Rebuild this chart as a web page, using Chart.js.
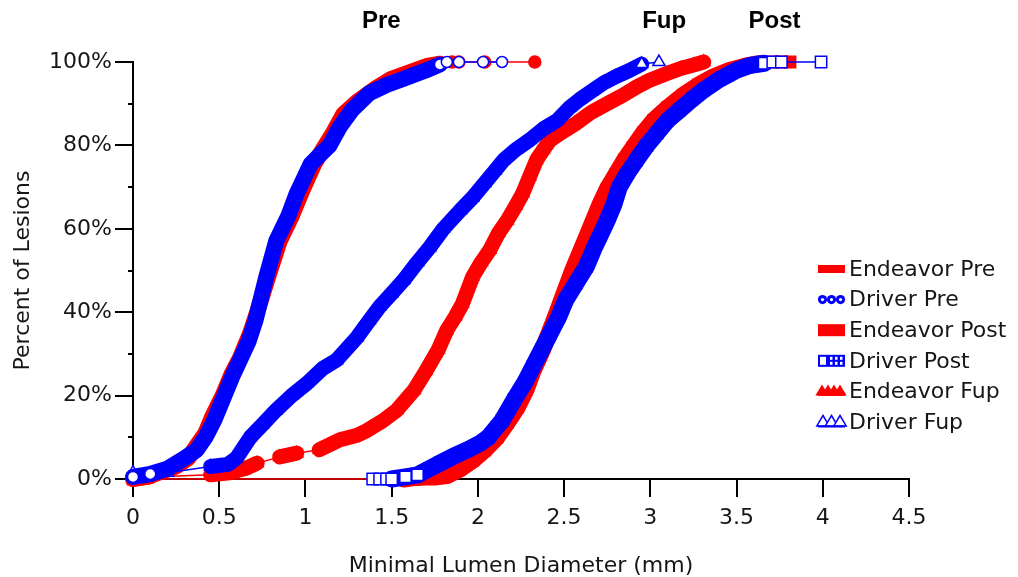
<!DOCTYPE html>
<html>
<head>
<meta charset="utf-8">
<script src="https://cdn.jsdelivr.net/npm/chart.js@4/dist/chart.umd.min.js"></script>
<style>
html,body{margin:0;padding:0;background:#fff;}
#wrap{width:1018px;height:577px;position:relative;}
</style>
</head>
<body>
<div id="wrap"><canvas id="c" width="1018" height="577"></canvas></div>
<script>
// ---------- data ----------
const seriesNames = ['Endeavor Pre','Driver Pre','Endeavor Post','Driver Post','Endeavor Fup','Driver Fup'];
const groupLabels = ['Pre','Fup','Post'];
const groupLabelX = [1.44, 3.08, 3.72];
const xTickLabels = ['0','0.5','1','1.5','2','2.5','3','3.5','4','4.5'];
const yTickLabels = ['0%','20%','40%','60%','80%','100%'];
const xTitle = 'Minimal Lumen Diameter (mm)';
const yTitle = 'Percent of Lesions';

const endeavorPreX = [0,0.08,0.15,0.25,0.32,0.37,0.42,0.46,0.52,0.57,0.62,0.68,0.72,0.78,0.85,0.92,0.98,1.05,1.10,1.16,1.22,1.30,1.40,1.50,1.60,1.70,1.78,1.85,1.89,2.04,2.33];
const endeavorPreY = [0,0.5,1.5,3,5,8,11,15,20,25,29,35,40,48,57,63,69,75.5,79,83,87.5,90.5,93.5,96,97.5,99,99.6,100,100,100,100];

const driverPreX = [0,0.1,0.2,0.3,0.37,0.42,0.47,0.53,0.58,0.62,0.67,0.71,0.77,0.83,0.90,0.95,1.03,1.09,1.14,1.20,1.27,1.37,1.47,1.57,1.70,1.78,1.82,1.89,2.03,2.14];
const driverPreY = [0.5,1.2,2.5,5,7,10,14,20,25,28.5,33,38,48,57,63,68.5,75.5,78,80,84.5,88.5,92.5,94.5,96,98,99.4,100,100,100,100];

const endeavorPostX = [0,1.53,1.57,1.62,1.70,1.76,1.82,1.90,1.97,2.04,2.11,2.17,2.23,2.28,2.32,2.37,2.42,2.46,2.50,2.55,2.59,2.63,2.67,2.71,2.75,2.80,2.85,2.90,2.96,3.02,3.10,3.19,3.28,3.37,3.46,3.55,3.63,3.71,3.76,3.81];
const endeavorPostY = [0,0,0,0.3,0.5,0.5,0.8,2.5,4.5,7,10,13.5,17.3,21.5,26,30.5,35.7,40,44.5,50,54,58,62,66,69.5,73,76.5,79.5,83,86,89,92,94.5,96.5,98,99,99.6,100,100,100];

const driverPostX = [1.39,1.43,1.47,1.50,1.58,1.65,1.72,1.78,1.86,1.94,2.01,2.06,2.14,2.21,2.27,2.32,2.37,2.42,2.47,2.51,2.57,2.63,2.67,2.71,2.75,2.79,2.82,2.87,2.92,2.98,3.04,3.10,3.17,3.24,3.31,3.40,3.50,3.58,3.66,3.71,3.76,3.99];
const driverPostY = [0,0,0,0,0.5,1,2.5,3.8,5.5,7,8.5,10,14,19,23,27,31,35,39,43,47,51,55,58.5,62,66,70,73.5,76.5,80,83,86,88.5,91,93.3,95.8,98,99.2,99.7,100,100,100];

const endeavorFupX = [0,0.1,0.45,0.56,0.65,0.72,0.85,0.95,1.08,1.20,1.30,1.36,1.45,1.53,1.63,1.70,1.77,1.82,1.87,1.91,1.97,2.02,2.07,2.12,2.17,2.22,2.26,2.30,2.34,2.38,2.42,2.50,2.57,2.66,2.75,2.84,2.92,3.00,3.10,3.18,3.25,3.31];
const endeavorFupY = [0,0.5,1,1.5,2.5,3.8,5.3,6.2,7,9.4,10.5,11.7,14,16.5,21.3,26,31,35.7,39,42,48.5,52,55,59,62,65.5,68.5,72.5,76.5,79,81.3,83.5,85.3,88,90,92,94,95.7,97.3,98.5,99.3,100];

const driverFupX = [0,0.2,0.45,0.55,0.60,0.68,0.75,0.83,0.92,1.01,1.10,1.18,1.30,1.37,1.43,1.50,1.57,1.65,1.72,1.80,1.90,1.97,2.04,2.10,2.15,2.22,2.30,2.38,2.46,2.53,2.59,2.66,2.73,2.80,2.88,2.95,3.05];
const driverFupY = [1.5,1.5,3,3.5,5,10,13,16.5,20,23,26.5,28.5,34,38,41.3,44.5,47.7,52,55.5,60,64.5,67.5,71,74,76.5,79,81.3,84,86,89,91,93,95,96.5,98,99.5,100];

// ---------- helpers ----------
const FONT = "'DejaVu Sans', Verdana, sans-serif";
const TXT = '#161616';
const RED = '#ff0000', BLUE = '#0000ff';

function pts(xs, ys){ return xs.map((x,i)=>({x:x, y:ys[i]})); }
function isThin(c){
  const d = c.chart.data.datasets[c.datasetIndex].data;
  const a = d[c.p0DataIndex], b = d[c.p1DataIndex];
  if(!a||!b) return false;
  return (a.y>=99.4&&b.y>=100)||(a.y<=0&&b.y<=0)||((b.x-a.x)>=0.12&&Math.abs(b.y-a.y)<=1.6);
}
function makeDs(label, xs, ys, color, style, radius, hollow, width, order){
  return {
    label: label,
    data: pts(xs, ys),
    showLine: true,
    borderColor: color,
    backgroundColor: color,
    borderWidth: 1.5,
    segment: { borderWidth: c => isThin(c) ? 1.5 : width },
    borderCapStyle: 'round',
    borderJoinStyle: 'round',
    tension: 0,
    clip: false,
    pointStyle: style,
    pointRadius: radius,
    pointBorderColor: color,
    pointBorderWidth: 1.5,
    pointBackgroundColor: hollow ? (c => { const r = c.raw; return (r && (r.y>=99.4 || r.y<=1.5)) ? '#ffffff' : color; }) : color,
    order: order
  };
}

const datasets = [
  makeDs(seriesNames[0], endeavorPreX, endeavorPreY, RED, 'circle', 6, false, 16, 2),
  makeDs(seriesNames[1], driverPreX, driverPreY, BLUE, 'circle', 5.5, true, 16, 1),
  makeDs(seriesNames[2], endeavorPostX, endeavorPostY, RED, 'rect', 8, false, 17, 2),
  makeDs(seriesNames[3], driverPostX, driverPostY, BLUE, 'rect', 8, true, 17, 1),
  makeDs(seriesNames[4], endeavorFupX, endeavorFupY, RED, 'triangle', 7, false, 15, 2),
  makeDs(seriesNames[5], driverFupX, driverFupY, BLUE, 'triangle', 7, true, 15, 1)
];

// ---------- plugins ----------
const minorTicks = {
  id: 'minorTicks',
  afterDraw(chart){
    const y = chart.scales.y, ctx = chart.ctx, left = chart.chartArea.left;
    ctx.save();
    ctx.strokeStyle = '#000'; ctx.lineWidth = 2;
    [10,30,50,70,90].forEach(v => {
      const py = Math.round(y.getPixelForValue(v));
      ctx.beginPath(); ctx.moveTo(left-5, py); ctx.lineTo(left, py); ctx.stroke();
    });
    ctx.restore();
  }
};

const groupTitles = {
  id: 'groupTitles',
  afterDraw(chart){
    const x = chart.scales.x, ctx = chart.ctx;
    ctx.save();
    ctx.font = "bold 24px 'Liberation Sans', Arial, sans-serif";
    ctx.fillStyle = '#000';
    ctx.textAlign = 'center'; ctx.textBaseline = 'middle';
    groupLabels.forEach((t,i) => ctx.fillText(t, x.getPixelForValue(groupLabelX[i]), chart.chartArea.top - 41));
    ctx.restore();
  }
};

function tri(ctx, cx, cy, r){
  ctx.beginPath();
  ctx.moveTo(cx, cy - r);
  ctx.lineTo(cx + r*0.95, cy + r*0.6);
  ctx.lineTo(cx - r*0.95, cy + r*0.6);
  ctx.closePath();
}

const customLegend = {
  id: 'customLegend',
  afterDraw(chart){
    const ctx = chart.ctx;
    const x0 = 818, x1 = 845, tx = 849, y0 = 269, dy = 30.6;
    ctx.save();
    chart.data.datasets.forEach((ds, i) => {
      const cy = y0 + i*dy;
      const col = ds.borderColor;
      ctx.lineWidth = 1.5;
      if (i === 0) { ctx.fillStyle = col; ctx.fillRect(x0, cy-4, x1-x0, 8); }
      else if (i === 2) { ctx.fillStyle = col; ctx.fillRect(x0, cy-6, x1-x0, 12); }
      else if (i === 1) {
        ctx.fillStyle = col;
        [822.5, 831.5, 840.5].forEach(cx => { ctx.beginPath(); ctx.arc(cx, cy, 4.6, 0, Math.PI*2); ctx.fill(); });
        ctx.fillStyle = '#fff';
        [822.5, 831.5, 840.5].forEach(cx => { ctx.beginPath(); ctx.arc(cx, cy, 1.6, 0, Math.PI*2); ctx.fill(); });
      }
      else if (i === 3) {
        ctx.fillStyle = col; ctx.fillRect(x0, cy-6, x1-x0, 12);
        ctx.fillStyle = '#fff';
        ctx.fillRect(x0+2, cy-4, 6, 8);
        [830, 835, 840].forEach(cx => { ctx.fillRect(cx, cy-4, 2.5, 3); ctx.fillRect(cx, cy+1, 2.5, 3); });
      }
      else if (i === 4) {
        ctx.fillStyle = col;
        [822, 828, 834, 840].forEach(cx => { tri(ctx, cx, cy, 7); ctx.fill(); });
        ctx.fillRect(x0, cy+1, x1-x0, 3.5);
      }
      else if (i === 5) {
        ctx.strokeStyle = col; ctx.fillStyle = '#fff';
        [823, 831.5, 840].forEach(cx => { tri(ctx, cx, cy, 6.5); ctx.fill(); ctx.stroke(); });
        ctx.fillStyle = col; ctx.fillRect(x0, cy+3.5, x1-x0, 2);
      }
      ctx.fillStyle = TXT;
      ctx.font = "22px " + FONT;
      ctx.textAlign = 'left'; ctx.textBaseline = 'middle';
      ctx.fillText(ds.label, tx, cy + 1);
    });
    ctx.restore();
  }
};

// ---------- chart ----------
new Chart(document.getElementById('c'), {
  type: 'scatter',
  data: { datasets: datasets },
  options: {
    responsive: false,
    animation: false,
    devicePixelRatio: 1,
    events: [],
    layout: { padding: { top: 62, right: 109, left: 0, bottom: 0 } },
    plugins: { legend: { display: false }, tooltip: { enabled: false } },
    scales: {
      x: {
        type: 'linear', min: 0, max: 4.5,
        ticks: {
          stepSize: 0.5, autoSkip: false, maxRotation: 0, padding: 8,
          color: TXT, font: { family: FONT, size: 22 },
          callback: v => { const i = Math.round(v/0.5); return xTickLabels[i] !== undefined ? xTickLabels[i] : ''; }
        },
        grid: { drawOnChartArea: false, drawTicks: true, tickLength: 18, color: '#000', lineWidth: 2 },
        border: { display: true, color: '#000', width: 2 },
        title: { display: true, text: xTitle, color: TXT, font: { family: FONT, size: 22, lineHeight: 1 }, padding: { top: 0, bottom: 0 } },
        afterFit: s => { s.height = 98; }
      },
      y: {
        type: 'linear', min: 0, max: 100,
        ticks: {
          stepSize: 20, padding: 3,
          color: TXT, font: { family: FONT, size: 22 },
          callback: v => { const i = Math.round(v/20); return yTickLabels[i] !== undefined ? yTickLabels[i] : ''; }
        },
        grid: { drawOnChartArea: false, drawTicks: true, tickLength: 18, color: '#000', lineWidth: 2 },
        border: { display: true, color: '#000', width: 2 },
        title: { display: true, text: yTitle, color: TXT, font: { family: FONT, size: 22 }, padding: { top: 10, bottom: 0 } },
        afterFit: s => { s.width = 133; }
      }
    }
  },
  plugins: [minorTicks, groupTitles, customLegend]
});
</script>
</body>
</html>
